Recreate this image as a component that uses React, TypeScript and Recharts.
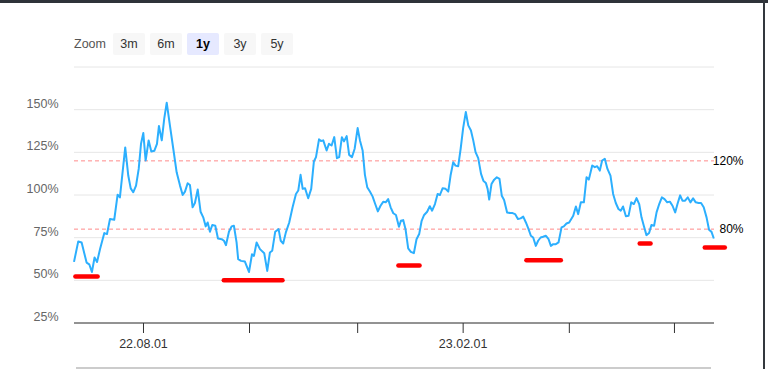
import { LineChart, Line, XAxis, YAxis, CartesianGrid, ReferenceLine } from 'recharts';

// [day, nav %]
const NAV: [number, number][] = [
  [0, 60.8], [2.4, 72.8], [4.3, 72.2], [7.1, 60.4], [8.6, 59.4], [10.1, 54.9], [11.6, 63.4], [13.0, 60.8],
  [14.7, 68.3], [17.1, 77.7], [18.6, 77.1], [20.3, 85.9], [22.7, 85.5], [24.6, 100.2], [25.9, 98.6], [28.9, 127.9],
  [30.6, 111.4], [32.0, 103.9], [33.4, 101.6], [35.0, 105.5], [36.5, 115.3], [37.8, 130.0], [39.1, 136.3], [40.4, 120.2],
  [42.1, 132.0], [43.6, 125.5], [45.3, 125.9], [46.8, 130.0], [47.9, 140.4], [49.5, 132.0], [50.9, 144.7], [52.3, 154.1],
  [54.1, 140.8], [56.0, 127.1], [57.9, 113.3], [59.8, 105.5], [61.3, 100.0], [62.6, 102.0], [64.1, 106.9], [65.4, 105.9],
  [66.9, 92.8], [68.2, 95.3], [69.8, 103.2], [71.4, 90.2], [72.9, 86.9], [74.3, 81.6], [75.4, 83.9], [76.7, 78.5],
  [78.0, 82.4], [79.7, 82.0], [81.2, 74.5], [83.3, 74.1], [84.6, 73.2], [85.7, 70.6], [87.4, 78.5], [88.9, 81.6],
  [90.2, 82.0], [91.7, 72.2], [92.6, 62.4], [94.2, 61.4], [96.4, 61.0], [98.7, 54.9], [100.4, 65.3], [101.5, 64.3],
  [103.0, 72.2], [104.9, 68.3], [107.3, 65.9], [109.0, 55.5], [110.5, 66.3], [111.8, 67.3], [113.5, 78.5], [115.4, 80.0],
  [116.6, 73.2], [118.0, 71.6], [119.5, 78.1], [121.4, 83.9], [123.3, 92.8], [125.2, 100.6], [126.5, 102.6], [127.8, 111.8],
  [129.0, 103.6], [130.3, 104.0], [132.1, 98.1], [133.8, 103.6], [135.3, 119.6], [136.5, 122.2], [138.2, 132.6], [139.3, 131.6],
  [140.6, 132.0], [142.5, 126.1], [143.8, 130.0], [145.3, 129.0], [146.8, 133.9], [148.3, 121.6], [149.6, 122.2], [151.1, 133.9],
  [152.3, 131.4], [153.8, 134.5], [155.2, 123.5], [156.8, 122.2], [158.3, 127.1], [160.0, 139.2], [161.3, 132.0], [162.8, 126.1],
  [164.1, 111.8], [165.4, 104.6], [166.9, 102.0], [168.4, 99.2], [169.9, 94.7], [171.4, 90.4], [172.9, 93.7], [174.4, 96.0],
  [175.8, 95.7], [177.2, 97.6], [178.6, 92.8], [180.1, 89.3], [181.6, 88.3], [183.3, 81.4], [184.4, 84.9], [185.7, 85.3],
  [187.0, 80.0], [188.5, 68.7], [190.0, 66.7], [191.7, 65.9], [193.2, 74.1], [194.7, 77.1], [196.1, 84.9], [197.5, 88.3],
  [199.2, 90.2], [200.7, 93.4], [202.0, 90.8], [203.6, 94.7], [205.1, 100.6], [206.4, 100.0], [207.9, 103.9], [209.6, 103.6],
  [211.1, 102.0], [212.4, 111.4], [213.9, 119.2], [215.2, 117.2], [216.7, 116.8], [218.1, 127.1], [219.5, 139.2], [221.0, 148.6],
  [222.4, 140.8], [223.9, 137.8], [225.2, 132.0], [226.5, 125.1], [228.0, 121.6], [229.6, 112.4], [230.9, 108.4], [232.3, 107.1],
  [233.3, 103.6], [234.2, 97.3], [235.5, 106.5], [237.0, 109.0], [238.5, 110.4], [240.0, 109.4], [241.3, 99.6], [242.6, 97.1],
  [244.3, 89.8], [245.9, 89.4], [247.4, 89.4], [248.8, 88.8], [250.4, 85.9], [251.9, 86.3], [253.4, 87.3], [254.9, 83.9],
  [256.4, 80.0], [257.7, 76.1], [259.0, 75.1], [260.5, 70.2], [261.8, 73.2], [263.2, 75.1], [264.6, 75.5], [266.2, 76.1],
  [267.7, 74.1], [269.0, 70.2], [270.3, 71.2], [271.8, 71.2], [273.3, 72.2], [275.0, 81.0], [276.3, 81.6], [277.8, 83.3],
  [279.3, 83.9], [281.6, 87.8], [283.1, 93.3], [284.4, 88.8], [285.9, 95.7], [287.6, 95.7], [289.1, 110.4], [290.4, 109.0],
  [292.3, 117.3], [293.8, 116.3], [295.1, 116.9], [296.6, 114.3], [297.9, 120.2], [299.4, 121.2], [300.9, 115.3], [302.6, 111.4],
  [304.1, 100.6], [305.6, 95.3], [307.1, 91.8], [308.4, 90.8], [309.7, 93.3], [311.3, 87.5], [312.8, 87.8], [314.3, 95.7],
  [315.8, 94.7], [317.3, 98.2], [318.8, 94.7], [320.1, 86.9], [321.4, 82.0], [322.9, 76.5], [324.4, 77.7], [325.7, 82.4],
  [327.2, 82.0], [328.6, 89.8], [330.1, 94.7], [331.6, 98.6], [333.1, 97.6], [334.6, 95.7], [336.1, 96.1], [337.6, 93.7],
  [339.1, 89.8], [340.4, 94.7], [341.9, 99.8], [343.2, 96.7], [344.7, 96.7], [346.2, 98.6], [347.7, 95.7], [349.2, 98.0],
  [350.7, 95.7], [352.3, 95.3], [353.7, 95.3], [355.2, 92.8], [356.8, 86.9], [358.2, 79.6], [359.6, 78.4], [360.9, 74.5],
];

const Y_TICKS = [25, 50, 75, 100, 125, 150, 175];
const X_TICKS = [39.2, 99, 160, 219.5, 279.4, 338.7];
const X_LABELS = ['22.08.01', '', '', '23.02.01', '', ''];
const BANDS = [{ level: 120, label: '120%' }, { level: 80, label: '80%' }];
// red hand-drawn marks under the lows: [from day, to day, level %]
const LOWS: [number, number, number][] = [
  [0.8, 13.3, 52.3], [84.5, 117.6, 50.0], [183.0, 194.9, 58.7],
  [255.2, 274.6, 61.7], [319.1, 325.2, 71.6], [355.8, 367.1, 69.3],
];
const RANGES = ['3m', '6m', '1y', '3y', '5y'];
const SELECTED = '1y';

const FONT = '"Liberation Sans", Arial, Helvetica, sans-serif';
const data = NAV.map(([d, v]) => ({ d, v }));

function YTick({ x, y, payload }: any) {
  if (payload.value === 175) return null;
  return (
    <text x={x} y={y} dy={-2} textAnchor="end" fill="#666" fontSize={12.5} fontFamily={FONT}>
      {payload.value}%
    </text>
  );
}

function XTick({ x, y, payload }: any) {
  const label = X_LABELS[X_TICKS.indexOf(payload.value)] || '';
  if (!label) return null;
  return (
    <text x={x} y={y} dy={15} textAnchor="middle" fill="#333" fontSize={12.5} fontFamily={FONT}>
      {label}
    </text>
  );
}

function bandLabel(text: string) {
  return (props: any) => {
    const vb = props.viewBox;
    return (
      <text x={vb.x + vb.width + 29.5} y={vb.y} dy={4.3} textAnchor="end" fill="#000" fontSize={12} fontFamily={FONT}>
        {text}
      </text>
    );
  };
}

export default function App() {
  return (
    <div style={{ position: 'absolute', left: 0, top: 0, width: 768, height: 369, background: '#fff', overflow: 'hidden', fontFamily: FONT }}>
      <div style={{ position: 'absolute', left: 0, top: 0, width: 768, height: 3, background: '#2e3339' }} />
      <div style={{ position: 'absolute', left: 763, top: 0, width: 2, height: 369, background: '#33383d' }} />
      <div style={{ position: 'absolute', left: 76, top: 367, width: 635, height: 2, background: '#cccccc' }} />

      {/* range selector */}
      <div style={{ position: 'absolute', left: 74, top: 33, height: 22, lineHeight: '22px', fontSize: 12.5, color: '#555' }}>Zoom</div>
      {RANGES.map((r, i) => (
        <div
          key={r}
          style={{
            position: 'absolute', left: 113 + i * 37, top: 33, width: 32, height: 22, lineHeight: '22px',
            textAlign: 'center', borderRadius: 2, fontSize: 12.5,
            background: r === SELECTED ? '#e6e9ff' : '#f7f7f7',
            color: r === SELECTED ? '#000' : '#333',
            fontWeight: r === SELECTED ? 700 : 400,
          }}
        >
          {r}
        </div>
      ))}

      <div style={{ position: 'absolute', left: 0, top: 0 }}>
        <LineChart width={768} height={369} data={data} margin={{ top: 67, right: 54, bottom: 0, left: 0 }}>
          <CartesianGrid vertical={false} stroke="#e6e6e6" />
          <XAxis
            dataKey="d"
            type="number"
            domain={[0, 361]}
            ticks={X_TICKS}
            height={46}
            axisLine={{ stroke: '#333' }}
            tickLine={{ stroke: '#333' }}
            tickSize={10}
            tickMargin={0}
            tick={<XTick />}
            interval={0}
          />
          <YAxis
            domain={[25, 175]}
            ticks={Y_TICKS}
            width={74}
            axisLine={false}
            tickLine={false}
            tickSize={8}
            tickMargin={7.5}
            tick={<YTick />}
            interval={0}
          />
          {BANDS.map((b) => (
            <ReferenceLine
              key={b.label}
              y={b.level}
              stroke="#ff8a8a"
              strokeDasharray="4 3"
              ifOverflow="visible"
              label={bandLabel(b.label)}
            />
          ))}
          <Line
            type="linear"
            dataKey="v"
            stroke="#2caffe"
            strokeWidth={2}
            strokeLinejoin="round"
            dot={false}
            activeDot={false}
            isAnimationActive={false}
          />
          {LOWS.map(([from, to, level], i) => (
            <ReferenceLine
              key={i}
              segment={[{ x: from, y: level }, { x: to, y: level }]}
              stroke="#ff0000"
              strokeWidth={4.5}
              strokeLinecap="round"
              ifOverflow="visible"
            />
          ))}
        </LineChart>
      </div>
    </div>
  );
}
